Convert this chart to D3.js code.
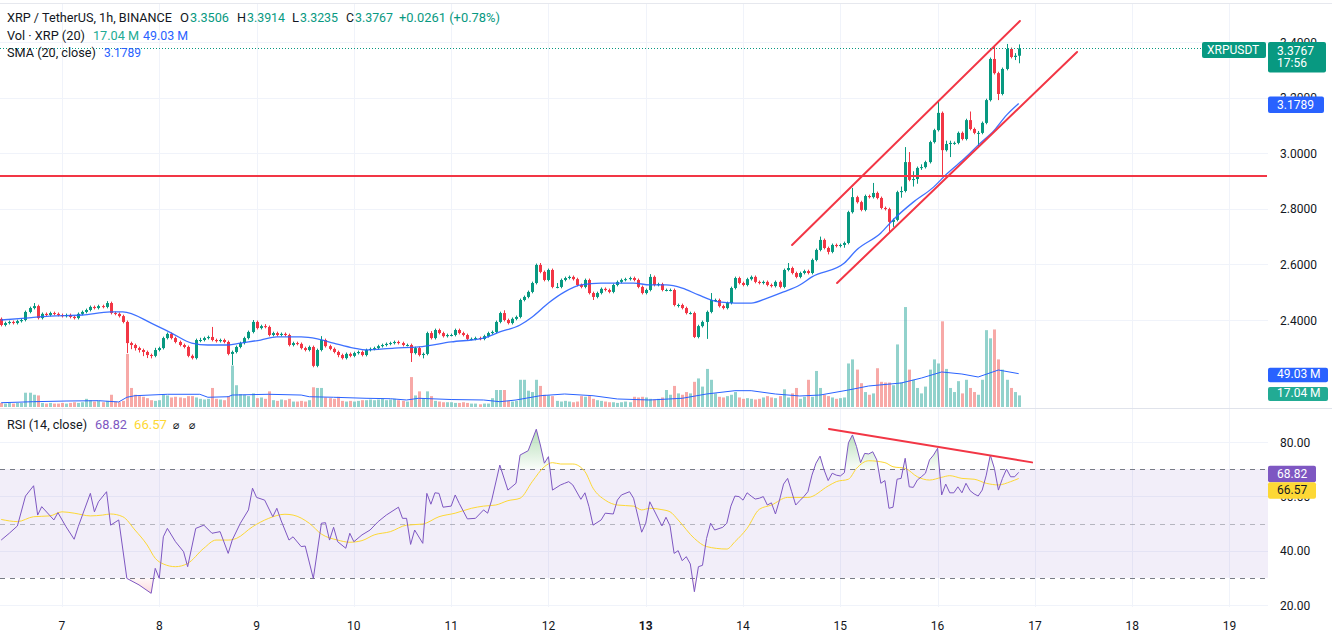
<!DOCTYPE html>
<html><head><meta charset="utf-8">
<script src="https://cdn.jsdelivr.net/npm/d3@7"></script>
<style>
body{margin:0;background:#fff;}
svg{display:block;font-family:Roboto,"Liberation Sans",sans-serif;}
</style>
</head><body>
<svg id="chart" width="1332" height="638"></svg>
<script>
// ---------------- DATA ----------------
// hourly candles; hour 0 = day 7 00:00
const firstHour = -15;
const firstOpen = 2.404;
const closes = [
2.382,2.389,2.393,2.389,2.396,2.400,2.429,2.443,2.450,2.407,
2.422,2.418,2.425,2.422,2.418,2.414,2.418,2.411,2.407,2.422,
2.429,2.436,2.447,2.443,2.450,2.447,2.461,2.425,2.422,2.414,
2.393,2.317,2.310,2.299,2.292,2.285,2.274,2.271,2.292,2.299,
2.335,2.350,2.335,2.321,2.310,2.303,2.271,2.263,2.328,2.328,
2.335,2.339,2.328,2.324,2.328,2.321,2.278,2.285,2.303,2.317,
2.335,2.357,2.393,2.371,2.378,2.375,2.346,2.353,2.346,2.350,
2.346,2.310,2.317,2.314,2.299,2.292,2.303,2.235,2.292,2.328,
2.306,2.296,2.285,2.274,2.263,2.278,2.271,2.281,2.285,2.274,
2.292,2.296,2.299,2.306,2.310,2.314,2.317,2.321,2.317,2.310,
2.310,2.281,2.299,2.274,2.278,2.353,2.335,2.364,2.353,2.342,
2.346,2.346,2.364,2.353,2.346,2.332,2.332,2.335,2.332,2.342,
2.353,2.357,2.393,2.425,2.400,2.389,2.404,2.411,2.472,2.483,
2.501,2.533,2.598,2.573,2.544,2.580,2.519,2.519,2.544,2.551,
2.555,2.547,2.526,2.519,2.544,2.497,2.483,2.497,2.512,2.508,
2.501,2.526,2.537,2.544,2.547,2.551,2.544,2.519,2.497,2.508,
2.555,2.526,2.529,2.508,2.508,2.508,2.454,2.454,2.443,2.425,
2.425,2.339,2.378,2.393,2.429,2.472,2.472,2.450,2.443,2.461,
2.515,2.551,2.533,2.526,2.547,2.555,2.537,2.533,2.537,2.526,
2.522,2.537,2.519,2.580,2.587,2.569,2.555,2.569,2.576,2.569,
2.616,2.652,2.688,2.659,2.645,2.670,2.666,2.670,2.677,2.788,
2.842,2.824,2.796,2.846,2.842,2.857,2.839,2.803,2.799,2.753,
2.760,2.860,2.864,2.968,2.904,2.907,2.947,2.950,2.968,3.040,
3.083,3.145,3.011,3.033,3.037,3.037,3.073,3.051,3.119,3.087,
3.073,3.073,3.109,3.191,3.339,3.288,3.213,3.303,3.375,3.346,
3.3506,3.3767];
const highs = [
2.409,2.394,2.398,2.398,2.401,2.405,2.434,2.448,2.461,2.455,
2.427,2.427,2.430,2.430,2.427,2.423,2.423,2.423,2.416,2.427,
2.434,2.441,2.452,2.452,2.455,2.455,2.468,2.466,2.430,2.427,
2.419,2.398,2.322,2.315,2.304,2.297,2.290,2.279,2.300,2.304,
2.340,2.355,2.355,2.340,2.326,2.315,2.308,2.276,2.333,2.336,
2.340,2.344,2.375,2.333,2.333,2.333,2.326,2.290,2.308,2.322,
2.340,2.362,2.400,2.398,2.383,2.385,2.380,2.358,2.358,2.355,
2.355,2.351,2.322,2.322,2.319,2.304,2.308,2.308,2.297,2.342,
2.333,2.311,2.301,2.290,2.279,2.283,2.283,2.286,2.290,2.290,
2.297,2.301,2.304,2.311,2.315,2.319,2.322,2.326,2.326,2.322,
2.315,2.315,2.304,2.304,2.283,2.358,2.360,2.369,2.369,2.358,
2.351,2.351,2.369,2.369,2.358,2.351,2.337,2.340,2.340,2.347,
2.358,2.362,2.398,2.430,2.435,2.405,2.409,2.416,2.477,2.488,
2.506,2.538,2.603,2.605,2.578,2.585,2.585,2.533,2.549,2.556,
2.560,2.560,2.552,2.531,2.549,2.549,2.502,2.502,2.517,2.517,
2.513,2.531,2.542,2.549,2.552,2.556,2.556,2.549,2.524,2.513,
2.565,2.560,2.534,2.534,2.513,2.513,2.513,2.459,2.459,2.448,
2.430,2.430,2.383,2.398,2.434,2.497,2.477,2.477,2.455,2.466,
2.520,2.556,2.556,2.538,2.552,2.560,2.560,2.542,2.542,2.542,
2.531,2.542,2.542,2.585,2.605,2.592,2.574,2.574,2.581,2.581,
2.621,2.657,2.700,2.693,2.664,2.675,2.675,2.675,2.682,2.793,
2.875,2.847,2.829,2.851,2.851,2.893,2.862,2.844,2.808,2.804,
2.765,2.865,2.880,3.022,3.004,2.935,2.952,2.960,2.973,3.045,
3.088,3.191,3.150,3.045,3.045,3.042,3.078,3.078,3.124,3.150,
3.092,3.080,3.114,3.196,3.344,3.389,3.293,3.308,3.393,3.380,
3.360,3.3914];
const lows = [
2.377,2.377,2.384,2.384,2.384,2.391,2.395,2.424,2.438,2.402,
2.402,2.413,2.413,2.417,2.413,2.409,2.409,2.406,2.402,2.402,
2.417,2.424,2.431,2.438,2.438,2.442,2.442,2.420,2.417,2.409,
2.388,2.281,2.295,2.290,2.283,2.270,2.263,2.262,2.266,2.287,
2.294,2.330,2.330,2.316,2.305,2.298,2.266,2.258,2.258,2.320,
2.323,2.330,2.323,2.319,2.319,2.316,2.273,2.238,2.280,2.298,
2.312,2.330,2.352,2.366,2.366,2.370,2.341,2.341,2.341,2.341,
2.341,2.305,2.305,2.309,2.294,2.287,2.287,2.230,2.230,2.287,
2.301,2.291,2.280,2.266,2.258,2.258,2.266,2.266,2.276,2.269,
2.269,2.287,2.291,2.294,2.301,2.305,2.309,2.312,2.312,2.305,
2.305,2.249,2.276,2.269,2.262,2.273,2.330,2.330,2.348,2.337,
2.337,2.341,2.341,2.348,2.341,2.327,2.327,2.327,2.327,2.327,
2.337,2.348,2.352,2.388,2.395,2.384,2.384,2.399,2.406,2.467,
2.478,2.496,2.528,2.568,2.539,2.539,2.514,2.514,2.514,2.539,
2.546,2.542,2.521,2.514,2.514,2.492,2.472,2.478,2.492,2.503,
2.496,2.496,2.521,2.532,2.539,2.542,2.539,2.514,2.492,2.492,
2.503,2.521,2.521,2.503,2.503,2.503,2.449,2.445,2.438,2.420,
2.420,2.335,2.334,2.373,2.332,2.424,2.465,2.445,2.438,2.438,
2.456,2.510,2.528,2.521,2.521,2.542,2.532,2.528,2.528,2.521,
2.517,2.517,2.514,2.514,2.575,2.564,2.550,2.550,2.564,2.564,
2.564,2.611,2.647,2.654,2.636,2.640,2.661,2.661,2.660,2.672,
2.783,2.819,2.791,2.791,2.837,2.837,2.834,2.798,2.794,2.717,
2.735,2.755,2.840,2.859,2.899,2.880,2.890,2.940,2.945,2.963,
3.035,3.078,2.922,3.006,2.986,3.030,3.032,3.046,3.046,3.082,
3.068,3.026,3.068,3.104,3.186,3.283,3.191,3.208,3.298,3.341,
3.335,3.3235];
// volume in millions of XRP
const volumes = [
6,5,6,5,6,6,21,21,18,17,
6,5,6,5,5,6,5,6,7,6,
7,12,10,8,9,7,9,18,8,7,
9,78,28,18,16,15,13,10,9,10,
18,17,14,15,14,13,16,16,14,12,
11,12,28,12,11,10,16,61,32,19,
18,16,20,13,14,12,23,10,9,11,
10,12,8,8,9,8,10,29,28,28,
14,13,12,15,9,8,9,8,9,10,
10,11,10,11,12,10,11,12,10,9,
8,44,17,23,13,23,16,9,8,7,
7,7,6,6,7,6,5,5,4,5,
5,13,25,25,25,9,8,9,40,40,
24,22,40,31,18,17,16,9,8,9,
8,7,8,16,15,16,12,10,9,8,
7,7,6,7,8,7,15,14,15,14,
12,11,12,14,25,18,31,20,18,22,
20,37,42,30,56,40,20,15,14,16,
18,22,14,12,13,12,11,12,14,16,
14,13,16,26,14,20,28,12,15,40,
15,53,28,18,16,14,12,13,14,64,
70,55,35,22,18,20,57,37,36,36,
32,92,36,147,55,40,28,20,30,55,
70,64,126,56,28,22,38,20,40,28,
22,18,40,113,101,114,70,55,40,28,
22,17.04];

// SMA(20, close)
const smaHours  = [-15,-9,-3,5,12,15,22,27,32,36,41,44,49,53,59,63,67,72,75,82,88,96,104,108,113,116,120,124,128,133,141,145,149,153,157,162,166,170,174,178,182,185,193,196,202,205,210,215,218,223,226,230,233,236];
const smaValues = [2.400,2.407,2.414,2.418,2.429,2.429,2.389,2.353,2.317,2.310,2.310,2.317,2.328,2.339,2.339,2.332,2.317,2.299,2.292,2.299,2.303,2.321,2.335,2.357,2.382,2.411,2.461,2.501,2.526,2.533,2.533,2.526,2.526,2.515,2.490,2.465,2.461,2.461,2.479,2.501,2.526,2.555,2.605,2.652,2.713,2.760,2.824,2.878,2.922,2.986,3.029,3.083,3.137,3.1789];

// Volume MA(20)
const volMaHours  = [-15,-7,1,9,14,16,18,26,34,36,41,42,51,59,61,67,75,81,85,88,96,104,108,112,118,124,131,137,145,153,159,166,170,176,182,187,194,199,207,212,217,222,226,231,236];
const volMaValues = [6.3,7.8,8.8,9.3,7.4,14.3,16.6,18.7,18.7,14.3,15.1,17.6,18.7,17.6,15.1,14.3,12.8,12.2,10.3,12.8,11.0,10.3,7.8,10.3,16.6,19.1,16.6,11.8,10.3,12.8,19.1,24.0,24.0,19.1,16.2,17.6,25,30.9,35.3,42.6,51.5,48.5,44.1,54.4,49.03];

// RSI(14, close)
const rsiHours = [-15,-13,-11,-9,-7,-6,-5,-2,-1,1,3,4,7,8,9,11,12,14,16,19,22,23,24,25,26,28,30,31,33,35,37,39,41,42,44,46,47,48,50,52,53,54,56,57,59,60,62,64,65,66,67,68,70,71,72,74,76,78,80,83,84,85,86,87,89,90,91,92,93,94,96,97,98,100,102,104,105,106,108,110,112,113,115,117,118,119,120,121,123,124,125,126,128,129,130,131,133,134,136,137,138,140,141,143,144,145,148,149,150,151,152,153,154,155,156,157,158,159,160,161,163,164,165,166,167,168,169,170,171,172,173,174,175,176,177,178,179,180,181,182,183,184,185,186,187,188,189,190,191,192,193,194,195,196,197,198,199,200,201,202,203,204,205,206,207,208,209,210,211,212,213,214,215,216,217,218,219,220,221,222,223,224,225,226,227,228,229,230,231,232,233,234,235,236];
const rsiValues = [43.9,46.4,49.1,60.1,63.9,53.1,56.2,51.3,54.0,48.8,44.2,48.8,61.1,54.3,58.0,61.7,49.4,51.3,29.8,27.4,24.3,33.5,29.8,45.1,48.2,43.3,39.6,34.1,48.2,49.4,46.4,47.0,39.0,43.9,50.1,55.0,63.0,59.6,58.6,52.5,55.6,51.3,43.9,45.1,41.5,41.7,29.8,50.1,50.3,43.9,48.6,43.3,40.9,46.4,43.3,45.8,47.6,50.7,53.1,56.0,51.9,51.9,42.3,47.6,42.7,61.1,57.1,61.3,61.1,56.0,56.4,60.5,57.4,51.7,51.9,55.0,53.8,58.6,71.5,62.3,64.8,75.2,76.8,84.7,78.9,72.2,74.6,62.3,64.2,64.8,65.4,64.2,58.9,61.3,56.2,49.4,51.3,53.8,53.5,58.6,60.5,61.7,59.3,46.8,50.1,58.0,49.1,52.3,49.1,39.0,40.0,36.3,37.8,35.1,24.9,34.1,34.6,44.5,50.1,47.6,48.6,50.1,56.4,60.1,59.9,58.6,61.3,60.1,59.0,59.3,59.9,56.8,57.6,53.5,58.6,64.5,66.6,61.7,56.8,58.4,59.9,61.7,67.8,72.2,74.8,69.7,65.8,68.5,67.8,67.5,68.7,79.7,82.6,78.3,72.4,75.8,75.6,76.4,73.4,64.8,65.8,55.6,56.0,66.3,66.6,74.0,63.5,63.3,66.0,67.2,68.5,73.4,75.2,77.7,60.5,64.5,61.3,61.3,63.5,61.3,64.8,62.1,60.9,60.1,62.3,67.8,75.2,70.3,62.3,66.6,70.0,67.2,67.2,68.82];

// RSI-based MA (14)
const rsiMaHours  = [-15,-11,-7,-3,0,3,7,10,12,15,18,21,23,25,28,31,35,38,41,43,47,51,55,57,61,64,68,71,74,77,81,85,89,93,97,101,104,107,110,113,116,119,121,123,126,129,131,134,137,141,143,145,148,150,152,156,159,164,166,169,172,175,179,184,189,191,194,196,199,203,205,208,211,214,217,219,222,225,228,231,234,236];
const rsiMaValues = [51.5,50.7,52.5,52.8,54.3,53.8,52.8,53.1,53.5,52.5,47.6,42.1,37.2,35.1,34.1,35.3,40.9,43.9,43.9,44.5,48.8,51.9,53.4,53.1,50.1,46.1,43.9,43.1,43.7,45.8,47.0,49.4,49.8,52.5,53.8,55.6,56.4,56.8,58.4,59.3,65.4,70.9,72.4,71.9,71.9,69.1,63.0,58.6,56.8,56.4,55.0,55.6,55.1,54.3,51.3,44.5,41.5,40.6,43.3,48.2,55.2,56.8,59.6,59.6,63.8,65.4,66.3,70.3,73.1,72.4,70.9,70.3,67.2,66.0,67.0,67.6,66.6,66.3,64.8,64.2,65.4,66.57];

// drawings: [hour, value]
const hLinePrice = 2.918;
const channelUpper = [[180.1, 2.670], [236.3, 3.4755]];
const channelLower = [[191.2, 2.533], [250.4, 3.364]];
const rsiTrend = [[189.2, 84.8], [239.3, 72.5]];

const dayLabels = ["7","8","9","10","11","12","13","14","15","16","17","18","19"];
const boldDay = "13";
const priceTicks = [2.4, 2.6, 2.8, 3.0, 3.2, 3.4];
const rsiTicks = [20, 40, 60, 80];
const rsiLevels = [70, 50, 30];

const lastClose = 3.3767, lastSma = 3.1789, lastVol = 17.04, lastVolMa = 49.03;
const lastRsi = 68.82, lastRsiMa = 66.57;

// ---------------- CHART ----------------
const svg = d3.select("#chart");
const plotRight = 1268;
const UP = "#089981", DOWN = "#f23645", BLUE = "#2962ff", PURPLE = "#7e57c2", YELLOW = "#fdd835", TXT = "#131722", GRID = "#f0f3fa";

const x = d3.scaleLinear().domain([-15.29, 297.5]).range([0, plotRight]);
const y = d3.scaleLinear().domain([2.4, 3.4]).range([320, 42]);
const yVol = d3.scaleLinear().domain([0, 150]).range([407, 305]);
const yRsi = d3.scaleLinear().domain([20, 80]).range([605, 442]);

const n = closes.length;
const candles = d3.range(n).map(i => ({
  h: firstHour + i,
  o: i === 0 ? firstOpen : closes[i - 1],
  c: closes[i], hi: highs[i], lo: lows[i], v: volumes[i]
}));

svg.append("rect").attr("width", 1332).attr("height", 638).attr("fill", "#fff");

const defs = svg.append("defs");
defs.append("clipPath").attr("id", "pricePane").append("rect").attr("x", 0).attr("y", 0).attr("width", plotRight).attr("height", 408);
defs.append("clipPath").attr("id", "rsiPane").append("rect").attr("x", 0).attr("y", 409).attr("width", plotRight).attr("height", 198);
defs.append("clipPath").attr("id", "above70").append("rect").attr("x", 0).attr("y", 409).attr("width", plotRight).attr("height", yRsi(70) - 409);
defs.append("clipPath").attr("id", "below30").append("rect").attr("x", 0).attr("y", yRsi(30)).attr("width", plotRight).attr("height", 607 - yRsi(30));
const gGreen = defs.append("linearGradient").attr("id", "gGreen").attr("x1", 0).attr("x2", 0)
  .attr("gradientUnits", "userSpaceOnUse").attr("y1", yRsi(86)).attr("y2", yRsi(70));
gGreen.append("stop").attr("offset", 0).attr("stop-color", "rgba(76,175,80,0.45)");
gGreen.append("stop").attr("offset", 1).attr("stop-color", "rgba(76,175,80,0.03)");
const gRed = defs.append("linearGradient").attr("id", "gRed").attr("x1", 0).attr("x2", 0)
  .attr("gradientUnits", "userSpaceOnUse").attr("y1", yRsi(30)).attr("y2", yRsi(22));
gRed.append("stop").attr("offset", 0).attr("stop-color", "rgba(242,54,69,0.03)");
gRed.append("stop").attr("offset", 1).attr("stop-color", "rgba(242,54,69,0.25)");

// top border
svg.append("line").attr("x1", 0).attr("x2", 1332).attr("y1", 3.5).attr("y2", 3.5).attr("stroke", "#e6e8ee");

// vertical day grid
const dayHours = dayLabels.map((d, i) => i * 24);
svg.append("g").selectAll("line").data(dayHours).join("line")
  .attr("x1", d => Math.round(x(d)) + 0.5).attr("x2", d => Math.round(x(d)) + 0.5)
  .attr("y1", 4).attr("y2", 607).attr("stroke", GRID);

// price grid
svg.append("g").selectAll("line").data(priceTicks).join("line")
  .attr("x1", 0).attr("x2", plotRight)
  .attr("y1", d => Math.round(y(d)) + 0.5).attr("y2", d => Math.round(y(d)) + 0.5).attr("stroke", GRID);

// rsi grid
svg.append("g").selectAll("line").data(rsiTicks).join("line")
  .attr("x1", 0).attr("x2", plotRight)
  .attr("y1", d => Math.round(yRsi(d)) + 0.5).attr("y2", d => Math.round(yRsi(d)) + 0.5).attr("stroke", GRID);

// rsi band
svg.append("rect").attr("x", 0).attr("width", plotRight)
  .attr("y", yRsi(70)).attr("height", yRsi(30) - yRsi(70)).attr("fill", "rgba(126,87,194,0.1)");
svg.append("g").selectAll("line").data(rsiLevels).join("line")
  .attr("x1", 0).attr("x2", plotRight)
  .attr("y1", d => Math.round(yRsi(d)) + 0.5).attr("y2", d => Math.round(yRsi(d)) + 0.5)
  .attr("stroke", d => d === 50 ? "rgba(120,123,134,0.5)" : "#787b86")
  .attr("stroke-dasharray", "5,5");

// ---- price pane ----
const pp = svg.append("g").attr("clip-path", "url(#pricePane)");
const cx = d => Math.round(x(d.h));

// volume bars
pp.append("g").selectAll("rect").data(candles).join("rect")
  .attr("x", d => cx(d) - 1).attr("width", 3)
  .attr("y", d => yVol(d.v)).attr("height", d => yVol(0) - yVol(d.v))
  .attr("fill", d => d.c >= d.o ? "rgba(38,166,154,0.5)" : "rgba(239,83,80,0.5)");

// volume MA
pp.append("path").datum(volMaHours.map((h, i) => [h, volMaValues[i]]))
  .attr("d", d3.line().x(d => x(d[0])).y(d => yVol(d[1])))
  .attr("fill", "none").attr("stroke", BLUE).attr("stroke-width", 1);

// candles
const cg = pp.append("g");
cg.selectAll("line").data(candles).join("line")
  .attr("x1", d => cx(d) + 0.5).attr("x2", d => cx(d) + 0.5)
  .attr("y1", d => y(d.hi)).attr("y2", d => y(d.lo))
  .attr("stroke", d => d.c >= d.o ? UP : DOWN).attr("stroke-width", 1);
cg.selectAll("rect").data(candles).join("rect")
  .attr("x", d => cx(d) - 1).attr("width", 3)
  .attr("y", d => y(Math.max(d.o, d.c)))
  .attr("height", d => Math.max(1, Math.abs(y(d.o) - y(d.c))))
  .attr("fill", d => d.c >= d.o ? UP : DOWN);

// SMA
pp.append("path").datum(smaHours.map((h, i) => [h, smaValues[i]]))
  .attr("d", d3.line().curve(d3.curveMonotoneX).x(d => x(d[0])).y(d => y(d[1])))
  .attr("fill", "none").attr("stroke", BLUE).attr("stroke-width", 1.3).attr("opacity", 0.9);

// horizontal red line
pp.append("line").attr("x1", 0).attr("x2", plotRight - 1)
  .attr("y1", y(hLinePrice)).attr("y2", y(hLinePrice)).attr("stroke", DOWN).attr("stroke-width", 2);
// channel
[channelUpper, channelLower].forEach(seg => {
  pp.append("line").attr("x1", x(seg[0][0])).attr("y1", y(seg[0][1]))
    .attr("x2", x(seg[1][0])).attr("y2", y(seg[1][1]))
    .attr("stroke", DOWN).attr("stroke-width", 2).attr("stroke-linecap", "round");
});
// last price dotted line
pp.append("line").attr("x1", 0).attr("x2", 1202)
  .attr("y1", Math.round(y(lastClose)) + 0.5).attr("y2", Math.round(y(lastClose)) + 0.5)
  .attr("stroke", UP).attr("stroke-dasharray", "1,2");

// ---- RSI pane ----
const rp = svg.append("g").attr("clip-path", "url(#rsiPane)");
const rsiPts = rsiHours.map((h, i) => [h, rsiValues[i]]);
rp.append("g").attr("clip-path", "url(#above70)").append("path").datum(rsiPts)
  .attr("d", d3.area().x(d => x(d[0])).y0(yRsi(70)).y1(d => yRsi(d[1])))
  .attr("fill", "url(#gGreen)");
rp.append("g").attr("clip-path", "url(#below30)").append("path").datum(rsiPts)
  .attr("d", d3.area().x(d => x(d[0])).y0(yRsi(30)).y1(d => yRsi(d[1])))
  .attr("fill", "url(#gRed)");
rp.append("path").datum(rsiMaHours.map((h, i) => [h, rsiMaValues[i]]))
  .attr("d", d3.line().curve(d3.curveMonotoneX).x(d => x(d[0])).y(d => yRsi(d[1])))
  .attr("fill", "none").attr("stroke", YELLOW).attr("stroke-width", 1);
rp.append("path").datum(rsiPts)
  .attr("d", d3.line().x(d => x(d[0])).y(d => yRsi(d[1])))
  .attr("fill", "none").attr("stroke", PURPLE).attr("stroke-width", 1);
rp.append("line").attr("x1", x(rsiTrend[0][0])).attr("y1", yRsi(rsiTrend[0][1]))
  .attr("x2", x(rsiTrend[1][0])).attr("y2", yRsi(rsiTrend[1][1]))
  .attr("stroke", DOWN).attr("stroke-width", 2).attr("stroke-linecap", "round");

// pane separator
svg.append("line").attr("x1", 0).attr("x2", 1332).attr("y1", 408.5).attr("y2", 408.5).attr("stroke", "#e0e3eb");

// ---- axes text ----
const axisFont = 12;
svg.append("g").selectAll("text").data(priceTicks).join("text")
  .attr("x", 1280).attr("y", d => y(d) + 4.5).attr("font-size", axisFont).attr("fill", TXT)
  .text(d => d.toFixed(4));
svg.append("g").selectAll("text").data(rsiTicks).join("text")
  .attr("x", 1280).attr("y", d => yRsi(d) + 4.5).attr("font-size", axisFont).attr("fill", TXT)
  .text(d => d.toFixed(2));
svg.append("g").selectAll("text").data(dayLabels).join("text")
  .attr("x", (d, i) => x(dayHours[i])).attr("y", 630).attr("text-anchor", "middle")
  .attr("font-size", axisFont).attr("fill", TXT)
  .attr("font-weight", d => d === boldDay ? "bold" : "normal")
  .text(d => d);

// ---- value tags ----
function tag(x0, y0, w, h, fill, texts, color) {
  svg.append("rect").attr("x", x0).attr("y", y0).attr("width", w).attr("height", h).attr("rx", 2).attr("fill", fill);
  texts.forEach(t => svg.append("text").attr("x", x0 + 9).attr("y", t[1]).attr("font-size", axisFont)
    .attr("fill", color).text(t[0]));
}
const yc = y(lastClose);
svg.append("rect").attr("x", 1202).attr("y", yc - 6.5).attr("width", 64).attr("height", 16).attr("rx", 2).attr("fill", UP);
svg.append("text").attr("x", 1207).attr("y", yc + 6).attr("font-size", axisFont).attr("fill", "#fff").text("XRPUSDT");
tag(1268, yc - 6.5, 58, 30.5, UP, [[lastClose.toFixed(4), yc + 6.5], ["17:56", yc + 19]], "#fff");
const ys = y(lastSma);
tag(1268, ys - 7, 56, 16.5, BLUE, [[lastSma.toFixed(4), ys + 5.5]], "#fff");
const yvm = yVol(lastVolMa);
tag(1268, yvm - 6, 60, 14.5, BLUE, [[lastVolMa.toFixed(2) + " M", yvm + 4.5]], "#fff");
const yv = yVol(lastVol);
tag(1268, yv - 8.5, 60, 14, "#22ab94", [[lastVol.toFixed(2) + " M", yv + 2]], "#fff");
const yr = yRsi(lastRsi);
tag(1268, yr - 6.5, 48, 16.5, PURPLE, [[lastRsi.toFixed(2), yr + 5.5]], "#fff");
tag(1268, yr + 10, 48, 16.5, YELLOW, [[lastRsiMa.toFixed(2), yr + 22]], TXT);

// ---- legends: [x, text, colour, width] ----
function leg(items, yb) {
  items.forEach(it => {
    const t = svg.append("text").attr("x", it[0]).attr("y", yb).attr("font-size", 13)
      .attr("fill", it[2]).text(it[1]);
    if (it[3]) t.attr("textLength", it[3]).attr("lengthAdjust", "spacingAndGlyphs");
  });
}
leg([[7, "XRP / TetherUS, 1h, BINANCE", TXT, 165], [180, "O", TXT, 9], [190, "3.3506", UP, 39],
     [237, "H", TXT, 9], [247, "3.3914", UP, 38], [292, "L", TXT, 7], [300, "3.3235", UP, 38],
     [346, "C", TXT, 8], [355, "3.3767", UP, 38], [399, "+0.0261 (+0.78%)", UP, 101]], 22);
leg([[7, "Vol · XRP (20)", TXT, 78], [93, "17.04 M", "#22ab94", 46], [143, "49.03 M", BLUE, 45]], 40);
leg([[7, "SMA (20, close)", TXT, 89], [104, "3.1789", BLUE, 37]], 57);
leg([[7, "RSI (14, close)", TXT, 80], [95, "68.82", PURPLE, 32], [134, "66.57", YELLOW, 33]], 429);
svg.append("text").attr("x", 173).attr("y", 429).attr("font-size", 11).attr("fill", TXT)
  .attr("font-family", "DejaVu Sans").text("⌀");
svg.append("text").attr("x", 189).attr("y", 429).attr("font-size", 11).attr("fill", TXT)
  .attr("font-family", "DejaVu Sans").text("⌀");
</script>
</body></html>
